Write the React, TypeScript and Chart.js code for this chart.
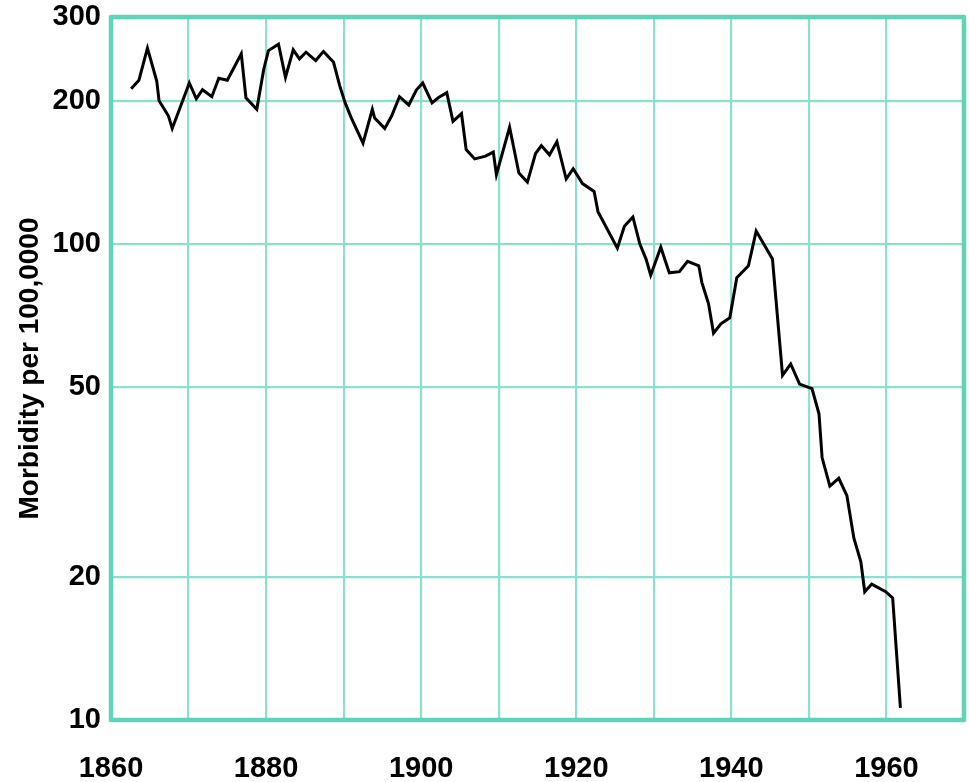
import React, { useEffect, useRef } from "react";
import { Chart, registerables } from "chart.js";

Chart.register(...registerables);

// Years (the points are not evenly spaced)
const years = [
  1862.6, 1863.6, 1864.7, 1865.9, 1866.2, 1867.4, 1867.9, 1870.1, 1871.0, 1871.8,
  1873.0, 1873.9, 1875.0, 1876.8, 1877.4, 1878.8, 1879.7, 1880.3, 1881.6, 1882.5,
  1883.5, 1884.3, 1885.15, 1886.4, 1887.4, 1888.7, 1889.5, 1890.2, 1891.0, 1892.5,
  1893.7, 1894.0, 1895.3, 1896.2, 1897.2, 1898.4, 1899.4, 1900.2, 1901.4, 1902.2,
  1903.3, 1904.1, 1905.2, 1905.8, 1906.9, 1908.3, 1909.3, 1909.7, 1911.4, 1912.6,
  1913.7, 1914.75, 1915.5, 1916.55, 1917.5, 1918.7, 1919.6, 1920.8, 1922.3, 1922.8,
  1925.3, 1926.2, 1927.3, 1928.2, 1929.0, 1929.6, 1930.9, 1932.0, 1933.3, 1934.35,
  1935.8, 1936.2, 1937.05, 1937.7, 1938.65, 1939.8, 1940.7, 1942.2, 1943.2, 1945.3,
  1946.6, 1947.65, 1948.8, 1950.4, 1951.3, 1951.7, 1952.7, 1953.85, 1954.9, 1955.8,
  1956.7, 1957.2, 1958.1, 1959.9, 1960.8, 1961.8,
];

// Morbidity per 100,000
const morbidity = [
  212, 221, 258, 220, 200, 186, 175, 218, 202, 211,
  204, 223, 221, 251, 203, 192, 233, 255, 263, 224,
  256, 245, 253, 243, 254, 241, 215, 198, 184, 163,
  192, 184, 175, 186, 204, 196, 211, 218, 198, 203,
  208, 181, 188, 158, 151, 153, 156, 140, 176, 141,
  135, 155, 161, 154, 164, 137, 144, 134, 129, 117,
  98, 109, 114, 100, 93, 86, 98.5, 87, 87.5, 92,
  90, 83, 75, 65, 68, 70, 85, 90, 106.5, 93,
  53, 56, 50.8, 49.7, 44, 35.6, 31, 32.2, 29.6, 24.1,
  21.5, 18.6, 19.3, 18.6, 18.05, 10.6,
];

const yTickValues = [10, 20, 50, 100, 200, 300];
const xTickLabels = ["1860", "1880", "1900", "1920", "1940", "1960"];
const yAxisTitle = "Morbidity per 100,0000";

const FONT = "'Liberation Sans', Arial, Helvetica, sans-serif";
const FRAME = "#5fd4b7";
const GRID = "#8ae1cd";

const framePlugin = {
  id: "frame",
  beforeDatasetsDraw(chart: any) {
    const { ctx, chartArea } = chart;
    ctx.save();
    ctx.strokeStyle = FRAME;
    ctx.lineWidth = 4.5;
    ctx.lineJoin = "round";
    ctx.strokeRect(
      chartArea.left,
      chartArea.top,
      chartArea.right - chartArea.left,
      chartArea.bottom - chartArea.top
    );
    ctx.restore();
  },
};

export default function App() {
  const ref = useRef<HTMLCanvasElement | null>(null);

  useEffect(() => {
    if (!ref.current) return;
    const chart = new Chart(ref.current, {
      type: "line",
      data: {
        datasets: [
          {
            data: years.map((x, i) => ({ x, y: morbidity[i] })),
            borderColor: "#000000",
            borderWidth: 3,
            pointRadius: 0,
            tension: 0,
            fill: false,
          },
        ],
      },
      options: {
        responsive: false,
        animation: false,
        layout: { padding: { top: 17, right: 5, left: 0, bottom: 0 } },
        plugins: {
          legend: { display: false },
          tooltip: { enabled: false },
        },
        scales: {
          x: {
            type: "linear",
            min: 1860,
            max: 1970,
            afterFit(scale: any) {
              scale.height = 62;
              scale.paddingLeft = 0;
              scale.paddingRight = 0;
            },
            border: { display: false },
            grid: { color: GRID, lineWidth: 2.2, drawTicks: false },
            ticks: {
              stepSize: 10,
              autoSkip: false,
              maxRotation: 0,
              padding: 32,
              color: "#000",
              font: { family: FONT, size: 29, weight: "bold" },
              callback: (v: any) => {
                const s = String(v);
                return xTickLabels.includes(s) ? s : "";
              },
            },
          },
          y: {
            type: "logarithmic",
            min: 10,
            max: 300,
            afterBuildTicks(scale: any) {
              scale.ticks = yTickValues.map((v) => ({ value: v }));
            },
            afterFit(scale: any) {
              scale.width = 111;
              scale.paddingTop = 0;
              scale.paddingBottom = 0;
            },
            border: { display: false },
            grid: { color: GRID, lineWidth: 2.2, drawTicks: false },
            ticks: {
              padding: 10,
              color: "#000",
              font: { family: FONT, size: 29, weight: "bold" },
              callback: (v: any) => String(v),
            },
            title: {
              display: true,
              text: yAxisTitle,
              color: "#000",
              padding: { top: 13, bottom: 0 },
              font: { family: FONT, size: 28, weight: "bold" },
            },
          },
        },
      },
      plugins: [framePlugin],
    });
    return () => chart.destroy();
  }, []);

  return (
    <div style={{ position: "fixed", left: 0, top: 0, width: 969, height: 782, background: "#fff" }}>
      <canvas ref={ref} width={969} height={782} style={{ width: 969, height: 782, display: "block" }} />
    </div>
  );
}
